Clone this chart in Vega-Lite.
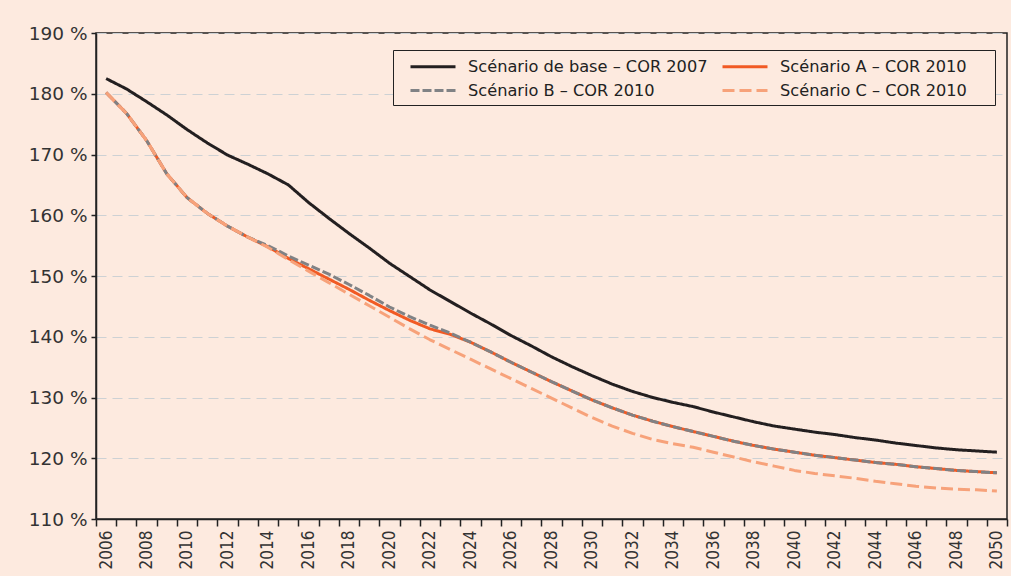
{
  "$schema": "https://vega.github.io/schema/vega-lite/v6.json",
  "width": 911,
  "height": 486,
  "autosize": "none",
  "padding": {"left": 96, "top": 33, "right": 4, "bottom": 57},
  "background": "#fdeadf",
  "config": {
    "font": "DejaVu Sans",
    "view": {"stroke": "#222222", "strokeWidth": 1.5},
    "legend": {
      "title": null,
      "orient": "none",
      "legendX": 297,
      "legendY": 17,
      "columns": 2,
      "direction": "horizontal",
      "labelFont": "DejaVu Sans",
      "labelFontSize": 16.2,
      "labelColor": "#222222",
      "labelLimit": 400,
      "symbolType": "M0.111,0H5.111",
      "symbolSize": 324,
      "symbolStrokeWidth": 3,
      "symbolFillColor": "transparent",
      "labelOffset": 48,
      "columnPadding": 3,
      "rowPadding": 5,
      "padding": 6,
      "strokeColor": "#222222",
      "fillColor": "#fdeadf"
    }
  },
  "data": {
    "values": [
      {"year": 2006, "scenario": "base", "value": 182.5},
      {"year": 2007, "scenario": "base", "value": 180.8},
      {"year": 2008, "scenario": "base", "value": 178.7},
      {"year": 2009, "scenario": "base", "value": 176.5},
      {"year": 2010, "scenario": "base", "value": 174.1},
      {"year": 2011, "scenario": "base", "value": 171.9},
      {"year": 2012, "scenario": "base", "value": 169.9},
      {"year": 2013, "scenario": "base", "value": 168.4},
      {"year": 2014, "scenario": "base", "value": 166.8},
      {"year": 2015, "scenario": "base", "value": 165.0},
      {"year": 2016, "scenario": "base", "value": 162.1},
      {"year": 2017, "scenario": "base", "value": 159.5},
      {"year": 2018, "scenario": "base", "value": 157.0},
      {"year": 2019, "scenario": "base", "value": 154.6},
      {"year": 2020, "scenario": "base", "value": 152.1},
      {"year": 2021, "scenario": "base", "value": 149.9},
      {"year": 2022, "scenario": "base", "value": 147.7},
      {"year": 2023, "scenario": "base", "value": 145.8},
      {"year": 2024, "scenario": "base", "value": 143.9},
      {"year": 2025, "scenario": "base", "value": 142.1},
      {"year": 2026, "scenario": "base", "value": 140.2},
      {"year": 2027, "scenario": "base", "value": 138.5},
      {"year": 2028, "scenario": "base", "value": 136.7},
      {"year": 2029, "scenario": "base", "value": 135.1},
      {"year": 2030, "scenario": "base", "value": 133.6},
      {"year": 2031, "scenario": "base", "value": 132.2},
      {"year": 2032, "scenario": "base", "value": 131.0},
      {"year": 2033, "scenario": "base", "value": 130.0},
      {"year": 2034, "scenario": "base", "value": 129.2},
      {"year": 2035, "scenario": "base", "value": 128.5},
      {"year": 2036, "scenario": "base", "value": 127.6},
      {"year": 2037, "scenario": "base", "value": 126.8},
      {"year": 2038, "scenario": "base", "value": 126.0},
      {"year": 2039, "scenario": "base", "value": 125.3},
      {"year": 2040, "scenario": "base", "value": 124.8},
      {"year": 2041, "scenario": "base", "value": 124.3},
      {"year": 2042, "scenario": "base", "value": 123.9},
      {"year": 2043, "scenario": "base", "value": 123.4},
      {"year": 2044, "scenario": "base", "value": 123.0},
      {"year": 2045, "scenario": "base", "value": 122.5},
      {"year": 2046, "scenario": "base", "value": 122.1},
      {"year": 2047, "scenario": "base", "value": 121.7},
      {"year": 2048, "scenario": "base", "value": 121.4},
      {"year": 2049, "scenario": "base", "value": 121.2},
      {"year": 2050, "scenario": "base", "value": 121.0},

      {"year": 2006, "scenario": "A", "value": 180.2},
      {"year": 2007, "scenario": "A", "value": 176.8},
      {"year": 2008, "scenario": "A", "value": 172.3},
      {"year": 2009, "scenario": "A", "value": 166.8},
      {"year": 2010, "scenario": "A", "value": 162.9},
      {"year": 2011, "scenario": "A", "value": 160.3},
      {"year": 2012, "scenario": "A", "value": 158.2},
      {"year": 2013, "scenario": "A", "value": 156.4},
      {"year": 2014, "scenario": "A", "value": 154.8},
      {"year": 2015, "scenario": "A", "value": 152.9},
      {"year": 2016, "scenario": "A", "value": 151.2},
      {"year": 2017, "scenario": "A", "value": 149.5},
      {"year": 2018, "scenario": "A", "value": 147.8},
      {"year": 2019, "scenario": "A", "value": 146.0},
      {"year": 2020, "scenario": "A", "value": 144.3},
      {"year": 2021, "scenario": "A", "value": 142.7},
      {"year": 2022, "scenario": "A", "value": 141.3},
      {"year": 2023, "scenario": "A", "value": 140.4},
      {"year": 2024, "scenario": "A", "value": 139.1},
      {"year": 2025, "scenario": "A", "value": 137.5},
      {"year": 2026, "scenario": "A", "value": 135.8},
      {"year": 2027, "scenario": "A", "value": 134.2},
      {"year": 2028, "scenario": "A", "value": 132.6},
      {"year": 2029, "scenario": "A", "value": 131.1},
      {"year": 2030, "scenario": "A", "value": 129.6},
      {"year": 2031, "scenario": "A", "value": 128.3},
      {"year": 2032, "scenario": "A", "value": 127.1},
      {"year": 2033, "scenario": "A", "value": 126.1},
      {"year": 2034, "scenario": "A", "value": 125.2},
      {"year": 2035, "scenario": "A", "value": 124.4},
      {"year": 2036, "scenario": "A", "value": 123.6},
      {"year": 2037, "scenario": "A", "value": 122.8},
      {"year": 2038, "scenario": "A", "value": 122.1},
      {"year": 2039, "scenario": "A", "value": 121.5},
      {"year": 2040, "scenario": "A", "value": 121.0},
      {"year": 2041, "scenario": "A", "value": 120.5},
      {"year": 2042, "scenario": "A", "value": 120.1},
      {"year": 2043, "scenario": "A", "value": 119.7},
      {"year": 2044, "scenario": "A", "value": 119.3},
      {"year": 2045, "scenario": "A", "value": 119.0},
      {"year": 2046, "scenario": "A", "value": 118.6},
      {"year": 2047, "scenario": "A", "value": 118.3},
      {"year": 2048, "scenario": "A", "value": 118.0},
      {"year": 2049, "scenario": "A", "value": 117.8},
      {"year": 2050, "scenario": "A", "value": 117.6},

      {"year": 2006, "scenario": "B", "value": 180.2},
      {"year": 2007, "scenario": "B", "value": 176.8},
      {"year": 2008, "scenario": "B", "value": 172.3},
      {"year": 2009, "scenario": "B", "value": 166.8},
      {"year": 2010, "scenario": "B", "value": 162.9},
      {"year": 2011, "scenario": "B", "value": 160.3},
      {"year": 2012, "scenario": "B", "value": 158.2},
      {"year": 2013, "scenario": "B", "value": 156.4},
      {"year": 2014, "scenario": "B", "value": 155.0},
      {"year": 2015, "scenario": "B", "value": 153.3},
      {"year": 2016, "scenario": "B", "value": 151.8},
      {"year": 2017, "scenario": "B", "value": 150.3},
      {"year": 2018, "scenario": "B", "value": 148.6},
      {"year": 2019, "scenario": "B", "value": 146.8},
      {"year": 2020, "scenario": "B", "value": 144.9},
      {"year": 2021, "scenario": "B", "value": 143.3},
      {"year": 2022, "scenario": "B", "value": 141.9},
      {"year": 2023, "scenario": "B", "value": 140.6},
      {"year": 2024, "scenario": "B", "value": 139.1},
      {"year": 2025, "scenario": "B", "value": 137.5},
      {"year": 2026, "scenario": "B", "value": 135.8},
      {"year": 2027, "scenario": "B", "value": 134.2},
      {"year": 2028, "scenario": "B", "value": 132.6},
      {"year": 2029, "scenario": "B", "value": 131.1},
      {"year": 2030, "scenario": "B", "value": 129.6},
      {"year": 2031, "scenario": "B", "value": 128.3},
      {"year": 2032, "scenario": "B", "value": 127.1},
      {"year": 2033, "scenario": "B", "value": 126.1},
      {"year": 2034, "scenario": "B", "value": 125.2},
      {"year": 2035, "scenario": "B", "value": 124.4},
      {"year": 2036, "scenario": "B", "value": 123.6},
      {"year": 2037, "scenario": "B", "value": 122.8},
      {"year": 2038, "scenario": "B", "value": 122.1},
      {"year": 2039, "scenario": "B", "value": 121.5},
      {"year": 2040, "scenario": "B", "value": 121.0},
      {"year": 2041, "scenario": "B", "value": 120.5},
      {"year": 2042, "scenario": "B", "value": 120.1},
      {"year": 2043, "scenario": "B", "value": 119.7},
      {"year": 2044, "scenario": "B", "value": 119.3},
      {"year": 2045, "scenario": "B", "value": 119.0},
      {"year": 2046, "scenario": "B", "value": 118.6},
      {"year": 2047, "scenario": "B", "value": 118.3},
      {"year": 2048, "scenario": "B", "value": 118.0},
      {"year": 2049, "scenario": "B", "value": 117.8},
      {"year": 2050, "scenario": "B", "value": 117.6},

      {"year": 2006, "scenario": "C", "value": 180.2},
      {"year": 2007, "scenario": "C", "value": 176.8},
      {"year": 2008, "scenario": "C", "value": 172.3},
      {"year": 2009, "scenario": "C", "value": 166.8},
      {"year": 2010, "scenario": "C", "value": 162.9},
      {"year": 2011, "scenario": "C", "value": 160.3},
      {"year": 2012, "scenario": "C", "value": 158.2},
      {"year": 2013, "scenario": "C", "value": 156.4},
      {"year": 2014, "scenario": "C", "value": 154.7},
      {"year": 2015, "scenario": "C", "value": 152.7},
      {"year": 2016, "scenario": "C", "value": 150.8},
      {"year": 2017, "scenario": "C", "value": 148.9},
      {"year": 2018, "scenario": "C", "value": 147.0},
      {"year": 2019, "scenario": "C", "value": 145.1},
      {"year": 2020, "scenario": "C", "value": 143.2},
      {"year": 2021, "scenario": "C", "value": 141.3},
      {"year": 2022, "scenario": "C", "value": 139.5},
      {"year": 2023, "scenario": "C", "value": 137.9},
      {"year": 2024, "scenario": "C", "value": 136.3},
      {"year": 2025, "scenario": "C", "value": 134.7},
      {"year": 2026, "scenario": "C", "value": 133.1},
      {"year": 2027, "scenario": "C", "value": 131.5},
      {"year": 2028, "scenario": "C", "value": 129.9},
      {"year": 2029, "scenario": "C", "value": 128.3},
      {"year": 2030, "scenario": "C", "value": 126.7},
      {"year": 2031, "scenario": "C", "value": 125.3},
      {"year": 2032, "scenario": "C", "value": 124.1},
      {"year": 2033, "scenario": "C", "value": 123.1},
      {"year": 2034, "scenario": "C", "value": 122.4},
      {"year": 2035, "scenario": "C", "value": 121.8},
      {"year": 2036, "scenario": "C", "value": 121.0},
      {"year": 2037, "scenario": "C", "value": 120.2},
      {"year": 2038, "scenario": "C", "value": 119.4},
      {"year": 2039, "scenario": "C", "value": 118.7},
      {"year": 2040, "scenario": "C", "value": 118.0},
      {"year": 2041, "scenario": "C", "value": 117.5},
      {"year": 2042, "scenario": "C", "value": 117.1},
      {"year": 2043, "scenario": "C", "value": 116.7},
      {"year": 2044, "scenario": "C", "value": 116.2},
      {"year": 2045, "scenario": "C", "value": 115.8},
      {"year": 2046, "scenario": "C", "value": 115.4},
      {"year": 2047, "scenario": "C", "value": 115.1},
      {"year": 2048, "scenario": "C", "value": 114.9},
      {"year": 2049, "scenario": "C", "value": 114.8},
      {"year": 2050, "scenario": "C", "value": 114.6}
    ]
  },
  "mark": {"type": "line", "strokeWidth": 3, "strokeCap": "butt", "strokeJoin": "round"},
  "encoding": {
    "x": {
      "field": "year",
      "type": "quantitative",
      "scale": {"domain": [2005.5, 2050.5], "nice": false, "zero": false},
      "axis": {
        "title": null,
        "values": [2005.5, 2006.5, 2007.5, 2008.5, 2009.5, 2010.5, 2011.5, 2012.5, 2013.5, 2014.5, 2015.5, 2016.5, 2017.5, 2018.5, 2019.5, 2020.5, 2021.5, 2022.5, 2023.5, 2024.5, 2025.5, 2026.5, 2027.5, 2028.5, 2029.5, 2030.5, 2031.5, 2032.5, 2033.5, 2034.5, 2035.5, 2036.5, 2037.5, 2038.5, 2039.5, 2040.5, 2041.5, 2042.5, 2043.5, 2044.5, 2045.5, 2046.5, 2047.5, 2048.5, 2049.5, 2050.5],
        "labelExpr": "(datum.value + 0.5) % 2 == 0 && datum.value < 2050 ? format(datum.value + 0.5, 'd') : ''",
        "labelOffset": 10,
        "labelAngle": 270,
        "labelAlign": "right",
        "labelBaseline": "middle",
        "labelFont": "DejaVu Sans Condensed",
        "labelFontSize": 17,
        "labelColor": "#333333",
        "labelPadding": 4,
        "labelOverlap": false,
        "labelFlush": false,
        "labelBound": false,
        "grid": false,
        "tickSize": 7,
        "tickColor": "#222222",
        "tickWidth": 1.5,
        "domainColor": "#222222",
        "domainWidth": 1.5
      }
    },
    "y": {
      "field": "value",
      "type": "quantitative",
      "scale": {"domain": [110, 190], "nice": false, "zero": false},
      "axis": {
        "title": null,
        "values": [110, 120, 130, 140, 150, 160, 170, 180, 190],
        "labelExpr": "datum.value + ' %'",
        "labelFont": "DejaVu Sans",
        "labelFontSize": 18.5,
        "labelColor": "#333333",
        "labelPadding": 4,
        "tickSize": 5,
        "tickColor": "#222222",
        "tickWidth": 1.5,
        "domainColor": "#222222",
        "domainWidth": 1.5,
        "grid": true,
        "gridColor": "#cdd1d4",
        "gridDash": [10, 6],
        "gridWidth": 1.2
      }
    },
    "color": {
      "field": "scenario",
      "type": "nominal",
      "sort": ["base", "A", "B", "C"],
      "scale": {"domain": ["base", "A", "B", "C"], "range": ["#231f20", "#f15a24", "#808285", "#f7a27a"]},
      "legend": {
        "labelExpr": "datum.value == 'base' ? 'Scénario de base – COR 2007' : datum.value == 'B' ? 'Scénario B – COR 2010' : 'Scénario ' + datum.value + ' – COR 2010\u00a0\u00a0\u2800'"
      }
    },
    "strokeDash": {
      "field": "scenario",
      "type": "nominal",
      "sort": ["base", "A", "B", "C"],
      "scale": {"domain": ["base", "A", "B", "C"], "range": [[1, 0], [1, 0], [9, 3], [12, 5]]},
      "legend": {
        "labelExpr": "datum.value == 'base' ? 'Scénario de base – COR 2007' : datum.value == 'B' ? 'Scénario B – COR 2010' : 'Scénario ' + datum.value + ' – COR 2010\u00a0\u00a0\u2800'"
      }
    }
  }
}
